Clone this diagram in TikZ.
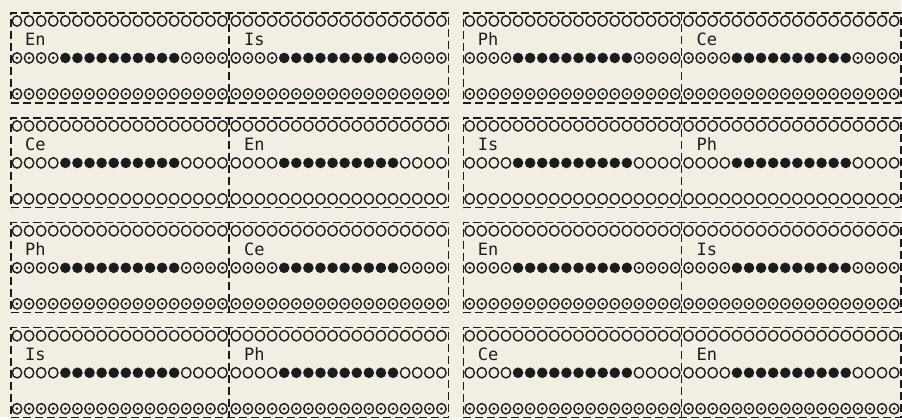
\documentclass[tikz,border=0pt]{standalone}
\usepackage{fontspec}
\setmonofont{DejaVu Sans Mono}
\usetikzlibrary{positioning}
\definecolor{paper}{HTML}{F3EEE4}
\definecolor{ink}{HTML}{1C1C1C}

\begin{document}
\begin{tikzpicture}[x=1pt, y=-1pt,
    blockbox/.style={draw=ink, line width=1.6pt, dash pattern=on 8pt off 4pt,
                     minimum width=438pt, minimum height=90pt, inner sep=0pt,
                     anchor=north west},
    divider/.style={draw=ink, line width=1.6pt, dash pattern=on 8pt off 4pt},
    tag/.style={font=\ttfamily\fontsize{17}{17}\selectfont, text=ink,
                inner sep=0pt, anchor=base west},
    pics/hole/.style={code={
        \ifnum#1=2
          \fill[ink] (0,0) circle[radius=5.3];
        \else
          \draw[ink, line width=1.4pt] (0,0) ellipse[x radius=4.7, y radius=5.2];
          \ifnum#1=1 \fill[ink] (0,0) circle[radius=1.5]; \fi
        \fi}}
  ]
    \fill[paper] (0,0) rectangle (902,417);

    \foreach \r/\ms/\bs/\la/\lb/\lc/\ld in {1/1/1/En/Is/Ph/Ce, 2/0/0/Ce/En/Is/Ph,
                                           3/1/1/Ph/Ce/En/Is, 4/0/1/Is/Ph/Ce/En} {
      \pgfmathsetmacro\by{12+105*(\r-1)}
      \node[blockbox] (blk-\r-a) at (10,\by)  {};
      \node[blockbox] (blk-\r-b) at (463,\by) {};
      \draw[divider] ([xshift=219pt]blk-\r-a.north west) -- ([xshift=219pt]blk-\r-a.south west);
      \draw[divider] ([xshift=219pt]blk-\r-b.north west) -- ([xshift=219pt]blk-\r-b.south west);

      \node[tag] (lbl-\r-a1) at ([xshift=15pt,yshift=-34pt]blk-\r-a.north west) {\la};
      \node[tag] (lbl-\r-a2) at ([xshift=234pt,yshift=-34pt]blk-\r-a.north west) {\lb};
      \node[tag] (lbl-\r-b1) at ([xshift=15pt,yshift=-34pt]blk-\r-b.north west) {\lc};
      \node[tag] (lbl-\r-b2) at ([xshift=234pt,yshift=-34pt]blk-\r-b.north west) {\ld};

      \foreach \cx in {10,229,463,682} {
        \foreach \i in {0,...,17} {
          \pgfmathsetmacro\hx{\cx+7+12.1*\i}
          \pgfmathtruncatemacro\k{(\i>3 && \i<14) ? 2 : \ms}
          \pic at (\hx,\by+9) {hole=0};
          \pic at (\hx,\by+46) {hole=\k};
          \pic at (\hx,\by+82) {hole=\bs};
        }
      }
    }
  \end{tikzpicture}
\end{document}
